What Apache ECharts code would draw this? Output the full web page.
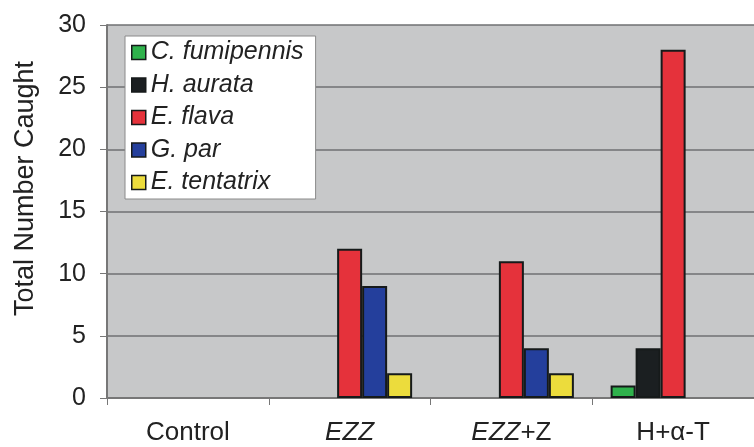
<!DOCTYPE html>
<html>
<head>
<meta charset="utf-8">
<script src="https://cdn.jsdelivr.net/npm/echarts@6/dist/echarts.min.js"></script>
<style>
  html, body { margin: 0; padding: 0; background: #fff; }
  #chart { width: 754px; height: 447px; }
</style>
</head>
<body>
<div id="chart"></div>
<script>
  // categories and counts
  const categories = ['Control', 'EZZ', 'EZZ+Z', 'H+α-T'];
  const cFumipennis = [0, 0, 0, 1];
  const hAurata     = [0, 0, 0, 4];
  const eFlava      = [0, 12, 11, 28];
  const gPar        = [0, 9, 4, 0];
  const eTentatrix  = [0, 2, 2, 0];
  const yTicks = [0, 5, 10, 15, 20, 25, 30];

  const seriesDefs = [
    { name: 'C. fumipennis', data: cFumipennis, color: '#2fb24c' },
    { name: 'H. aurata',     data: hAurata,     color: '#1b1f21' },
    { name: 'E. flava',      data: eFlava,      color: '#e5323b' },
    { name: 'G. par',        data: gPar,        color: '#243f9c' },
    { name: 'E. tentatrix',  data: eTentatrix,  color: '#ecdc3c' }
  ];

  const chart = echarts.init(document.getElementById('chart'));

  let series = seriesDefs.map(function (s) {
    return {
      name: s.name,
      type: 'bar',
      barWidth: 25,
      barGap: '0%',
      // zero counts have no bar in the figure
      data: s.data.map(v => v === 0 ? '-' : v),
      itemStyle: {
        color: s.color,
        borderColor: '#161a1a',
        borderWidth: 2
      }
    };
  });

  let option = {
    animation: false,
    backgroundColor: '#ffffff',
    textStyle: { fontFamily: 'Liberation Sans, Arial, sans-serif' },
    legend: {
      orient: 'vertical',
      left: 125,
      top: 36,
      padding: [4, 12, 4, 6],
      itemGap: 7.5,
      itemWidth: 14,
      itemHeight: 14,
      itemTextGap: 6,
      backgroundColor: '#ffffff',
      borderColor: '#8a8a8a',
      borderWidth: 1,
      icon: 'rect',
      itemStyle: { borderColor: '#161a1a', borderWidth: 1.5 },
      textStyle: {
        fontSize: 25,
        fontStyle: 'italic',
        color: '#222'
      },
      data: seriesDefs.map(s => s.name)
    },
    grid: {
      left: 107,
      right: -7,
      top: 25,
      bottom: 49,
      show: true,
      backgroundColor: '#c7c8c9',
      borderWidth: 0
    },
    xAxis: {
      type: 'category',
      data: categories,
      axisLine: { lineStyle: { color: '#777', width: 2 } },
      axisTick: { show: true, length: 7, lineStyle: { color: '#777' } },
      axisLabel: {
        interval: 0,
        hideOverlap: false,
        margin: 22,
        fontSize: 26,
        color: '#222',
        formatter: function (v) {
          if (v.indexOf('EZZ') === 0) {
            let rest = v.slice(3);
            return '{i|EZZ}' + (rest ? '{n|' + rest + '}' : '');
          }
          return '{n|' + v + '}';
        },
        rich: {
          i: { fontSize: 26, fontStyle: 'italic', color: '#222' },
          n: { fontSize: 26, color: '#222' }
        }
      }
    },
    yAxis: {
      type: 'value',
      min: yTicks[0],
      max: yTicks[yTicks.length - 1],
      interval: 5,
      name: 'Total Number Caught',
      nameLocation: 'middle',
      nameGap: 68,
      nameTextStyle: { fontSize: 27, color: '#222', padding: [0, 0, 0, 46] },
      axisLine: { show: true, lineStyle: { color: '#777', width: 2 } },
      axisTick: { show: true, length: 7, lineStyle: { color: '#777' } },
      axisLabel: { fontSize: 25, color: '#222', margin: 21 },
      splitLine: { lineStyle: { color: '#6f7072', width: 1.5 } }
    },
    series
  };

  chart.setOption(option);
</script>
</body>
</html>
